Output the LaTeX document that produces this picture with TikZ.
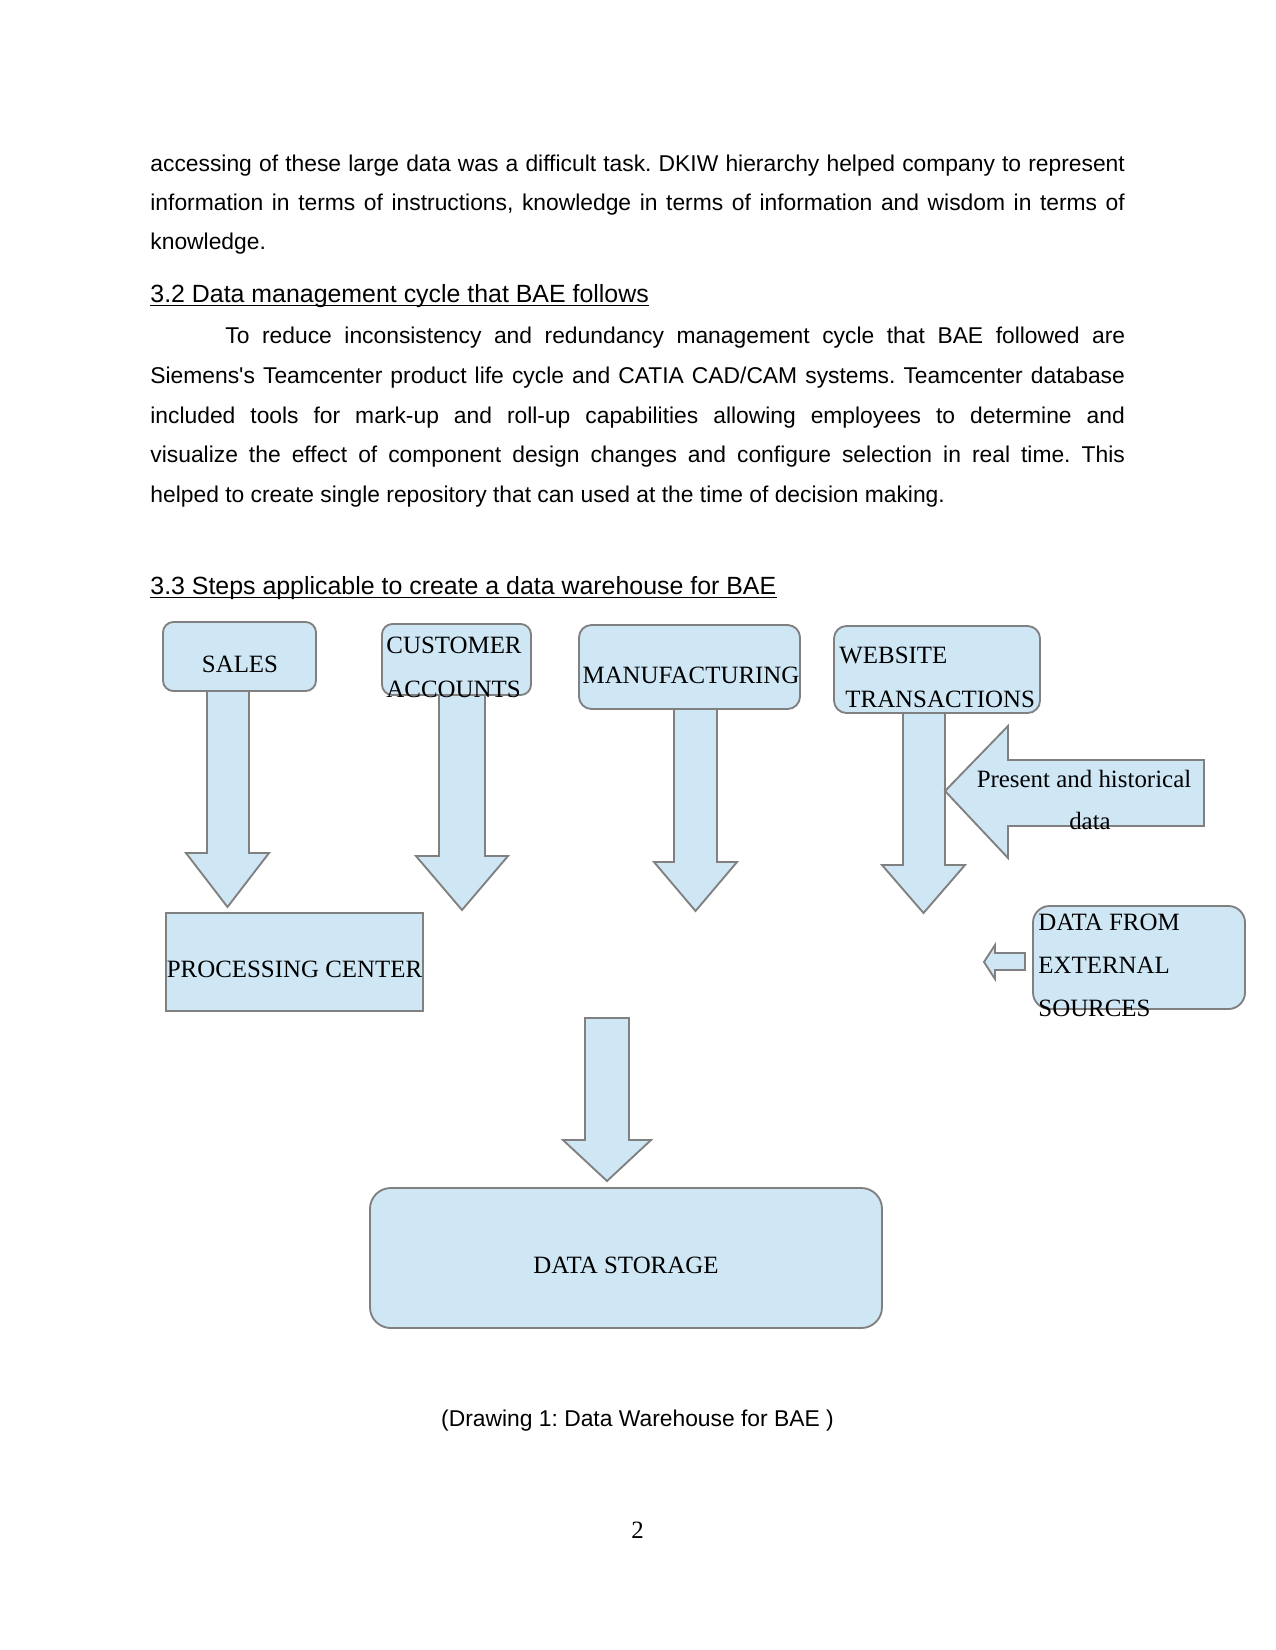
\documentclass[tikz,border=0pt]{standalone}
\usepackage{fontspec}
\setmainfont{Liberation Serif}
\setsansfont{Liberation Sans}
\usepackage{tikz}
\usetikzlibrary{fit}
\frenchspacing

\definecolor{boxfill}{RGB}{207,231,245}
\definecolor{boxline}{RGB}{128,128,128}

\begin{document}
\begin{tikzpicture}[
          x=0.16933mm, y=-0.16933mm,
          body/.style={font=\sffamily\fontsize{11}{13}\selectfont, inner sep=0pt, anchor=base west},
          head/.style={font=\sffamily\fontsize{12}{14}\selectfont, inner sep=0pt, anchor=base west},
          uline/.style={line width=0.6pt},
          % Diagram shapes
          box/.style={draw=boxline, fill=boxfill, line width=0.9pt, inner sep=0pt},
          blk/.style={draw=boxline, fill=boxfill, line width=0.9pt, line join=miter},
          lbl/.style={font=\fontsize{12}{14}\selectfont, inner sep=0pt, anchor=base west},
          clbl/.style={lbl, anchor=base}
        ]

        % -------- Page --------
        \fill[white] (0,0) rectangle (1275,1650);
        \useasboundingbox (0,0) rectangle (1275,1650);

        % -------- Text before the drawing --------
        \node[body] (l1) at (150,171) {\makebox[469.5pt][s]{accessing of these large data was a difficult task. DKIW hierarchy helped company to represent}};
        \node[body] (l2) at (150,210) {\makebox[469.5pt][s]{information in terms of instructions, knowledge in terms of information and wisdom in terms of}};
        \node[body] (l3) at (150,249) {knowledge.};

        \node[head] (h32) at (150,302) {3.2 Data management cycle that BAE follows};
        \draw[uline] ([yshift=-1.6pt]h32.base west) -- ([yshift=-1.6pt]h32.base east);

        \node[body] (p1) at (225,343) {\makebox[433.5pt][s]{To reduce inconsistency and redundancy management cycle that BAE followed are}};
        \node[body] (p2) at (150,383) {\makebox[469.5pt][s]{Siemens\textquotesingle s Teamcenter product life cycle and CATIA CAD/CAM systems. Teamcenter database}};
        \node[body] (p3) at (150,423) {\makebox[469.5pt][s]{included tools for mark-up and roll-up capabilities allowing employees to determine and}};
        \node[body] (p4) at (150,462) {\makebox[469.5pt][s]{visualize the effect of component design changes and configure selection in real time. This}};
        \node[body] (p5) at (150,502) {helped to create single repository that can used at the time of decision making.};

        \node[head] (h33) at (150,594) {3.3 Steps applicable to create a data warehouse for BAE};
        \draw[uline] ([yshift=-1.6pt]h33.base west) -- ([yshift=-1.6pt]h33.base east);

        % -------- Boxes --------
        \node[box, rounded corners=5pt, fit={(163,622) (316,691)}] (sales) {};
        \node[box, rounded corners=5pt, fit={(382,624) (531,695)}] (cust) {};
        \node[box, rounded corners=6pt, fit={(579,625) (800,709)}] (manuf) {};
        \node[box, rounded corners=6pt, fit={(834,626) (1040,713)}] (web) {};
        \node[box, fit={(166,913) (423,1011)}] (proc) {};
        \node[box, rounded corners=8pt, fit={(1033,906) (1245,1009)}] (ext) {};
        \node[box, rounded corners=10pt, fit={(370,1188) (882,1328)}] (store) {};

        % -------- Block arrows down --------
        % shaft left / shaft right / top / head start / head left / head right / tip
        \foreach \sl/\sr/\ya/\yb/\hl/\hr/\yc in {207/249/691/853/186/269/907,
                                                 439/485/695/856/416/508/910,
                                                 674/717/709/862/654/737/911,
                                                 903/945/713/865/882/965/913,
                                                 585/629/1018/1140/563/651/1181}
          \draw[blk] (\sl,\ya) -- (\sl,\yb) -- (\hl,\yb) -- ({(\hl+\hr)/2},\yc)
                     -- (\hr,\yb) -- (\sr,\yb) -- (\sr,\ya) -- cycle;

        % -------- Block arrows left --------
        \draw[blk] (945,791) -- (1008,726) -- (1008,760) -- (1204,760)
                   -- (1204,826) -- (1008,826) -- (1008,858) -- cycle;
        \draw[blk] (984,962) -- (995,945) -- (995,953) -- (1025,953)
                   -- (1025,970) -- (995,970) -- (995,979) -- cycle;

        % -------- Labels --------
        \node[clbl] (salesTxt) at (240,672) {SALES};
        \node[lbl] (custTxtA) at (386,653) {CUSTOMER};
        \node[lbl] (custTxtB) at (386,697) {ACCOUNTS};
        \node[clbl] (manufTxt) at (691,683) {MANUFACTURING};
        \node[lbl] (webTxtA) at (839,663) {WEBSITE};
        \node[lbl] (webTxtB) at (845,707) {TRANSACTIONS};
        \node[clbl] (histTxtA) at (1084,787) {Present and historical};
        \node[clbl] (histTxtB) at (1090,829) {data};
        \node[clbl] (procTxt) at (294.5,977) {PROCESSING CENTER};
        \node[lbl] (extTxtA) at (1038,930) {DATA FROM};
        \node[lbl] (extTxtB) at (1038,973) {EXTERNAL};
        \node[lbl] (extTxtC) at (1038,1016) {SOURCES};
        \node[clbl] (storeTxt) at (626,1273) {DATA STORAGE};

        % -------- Caption and page number --------
        \node[body, anchor=base] (cap) at (637.5,1426) {(Drawing 1: Data Warehouse for BAE )};
        \node[lbl, anchor=base] (pnum) at (637.5,1538) {2};

      \end{tikzpicture}
\end{document}
